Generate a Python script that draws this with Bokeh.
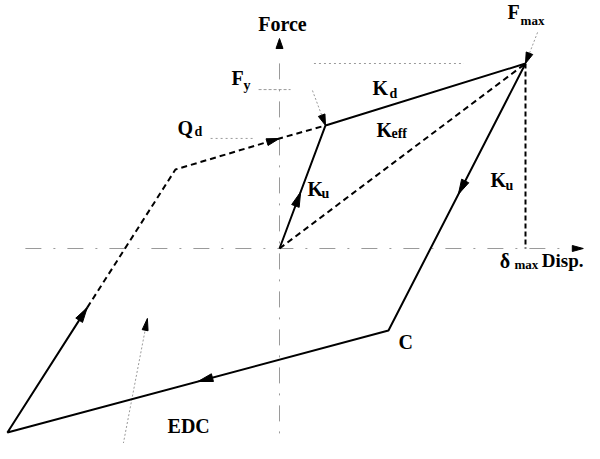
import numpy as np
from bokeh.plotting import figure
from bokeh.models import Range1d
from bokeh.core.properties import value
from bokeh.embed import file_html
from bokeh.resources import INLINE

# ---- data: key points of the bilinear hysteresis loop (disp/δmax, force/Fmax)
point_names = ["O", "Fy", "Fmax", "C", "Neg", "UL", "Qd"]
disp = [0.0, 0.187, 1.0, 0.443, -1.106, -0.423, 0.0]
force = [0.0, 0.665, 1.0, -0.443, -0.995, 0.427, 0.595]
P = dict(zip(point_names, zip(disp, force)))

# fractions along segments where direction arrowheads sit
ku_frac = 0.46       # O -> Fy
unload_frac = 0.49   # Fmax -> C
lower_frac = 0.50    # C -> Neg
rise_frac = 0.475    # Neg -> UL (solid ends, dashed starts)

# reference levels (gray dotted)
fmax_level_x = [0.14, 0.75]
fy_tick_level = 0.859
fy_tick_x = [-0.085, 0.045]
qd_level_x = [-0.28, -0.106]

# axes extents
haxis_x = [-1.033, 1.150]
haxis_tip = 1.235
vaxis_y = [-1.14, 1.027]
vaxis_tip = 1.135

# pointer arrows (start points)
fy_ptr_start = (0.134, 0.854)
fmax_ptr_start = (1.049, 1.168)
edc_ptr_start = (-0.638, -1.076)
edc_ptr_tip = (-0.537, -0.378)

# labels
main_labels = ["Force", "F", "Q", "K", "K", "K", "K", "F", "δ", "Disp.", "C", "EDC"]
main_x = [0.012, -0.195, -0.415, 0.378, 0.394, 0.114, 0.858, 0.927, 0.895, 1.236, 0.484, -0.455]
main_y = [1.211, 0.919, 0.654, 0.865, 0.643, 0.324, 0.368, 1.276, -0.065, -0.065, -0.503, -0.962]
main_size = ["20px"] * 9 + ["19px", "20px", "20px"]
main_align = ["center", "left", "left", "left", "left", "left", "left", "left", "left", "right", "left", "left"]
sub_labels = ["y", "d", "d", "eff", "u", "u", "max", "max"]
sub_x = [-0.146, -0.346, 0.447, 0.455, 0.171, 0.919, 0.980, 0.955]
sub_y = [0.881, 0.632, 0.838, 0.622, 0.297, 0.341, 1.233, -0.086]
sub_size = ["14px", "14px", "14px", "14px", "14px", "14px", "13px", "13px"]

# ---- figure
W, H = 584, 443
x0, x1 = (0 - 279) / 246, (584 - 279) / 246
y0, y1 = (248 - 443) / 185, (248 - 0) / 185
SX = W / (x1 - x0)
SY = H / (y1 - y0)

p = figure(width=W, height=H, output_backend="svg", toolbar_location=None,
           x_range=Range1d(x0, x1), y_range=Range1d(y0, y1),
           x_axis_type=None, y_axis_type=None, min_border=0)
p.grid.visible = False
p.outline_line_color = None
p.background_fill_color = "white"


def lerp(a, b, t):
    return (a[0] + (b[0] - a[0]) * t, a[1] + (b[1] - a[1]) * t)


def head(tip, frm, L, Wd):
    dx = (tip[0] - frm[0]) * SX
    dy = (tip[1] - frm[1]) * SY
    n = np.hypot(dx, dy)
    ux, uy = dx / n, dy / n
    bx = tip[0] * SX - L * ux
    by = tip[1] * SY - L * uy
    px, py = -uy, ux
    xs = [tip[0], (bx + Wd / 2 * px) / SX, (bx - Wd / 2 * px) / SX]
    ys = [tip[1], (by + Wd / 2 * py) / SY, (by - Wd / 2 * py) / SY]
    return xs, ys


GRAY = "#9a9a9a"

# axes (dash-dot gray)
p.line(haxis_x, [0, 0], line_color=GRAY, line_width=1, line_dash="16 12 2 12")
p.line([0, 0], vaxis_y, line_color=GRAY, line_width=1, line_dash="16 10 2 10")

# reference level lines
p.line(fmax_level_x, [P["Fmax"][1]] * 2, line_color=GRAY, line_width=1, line_dash="2 3")
p.line(fy_tick_x, [fy_tick_level] * 2, line_color=GRAY, line_width=1, line_dash="3 2")
p.line(qd_level_x, [P["Qd"][1]] * 2, line_color=GRAY, line_width=1, line_dash="2 3")

# pointer lines
for s, t in [(fy_ptr_start, P["Fy"]), (fmax_ptr_start, P["Fmax"]), (edc_ptr_start, edc_ptr_tip)]:
    p.line([s[0], t[0]], [s[1], t[1]], line_color=GRAY, line_width=1, line_dash="2 2")

# main loop
rise_pt = lerp(P["Neg"], P["UL"], rise_frac)
solid1 = [P["O"], P["Fy"], P["Fmax"]]
solid2 = [P["Fmax"], P["C"], P["Neg"], rise_pt]
dashed1 = [rise_pt, P["UL"], P["Qd"], P["Fy"]]
for seg in [solid1, solid2]:
    p.line([q[0] for q in seg], [q[1] for q in seg], line_color="black", line_width=2)
p.line([q[0] for q in dashed1], [q[1] for q in dashed1], line_color="black",
       line_width=2, line_dash="6 4")
# K_eff secant
p.line([P["O"][0], P["Fmax"][0]], [P["O"][1], P["Fmax"][1]], line_color="black",
       line_width=2, line_dash="6 4")
# δmax vertical
p.line([P["Fmax"][0], P["Fmax"][0]], [P["Fmax"][1], 0], line_color="black",
       line_width=2, line_dash="5 3")

# arrowheads
heads = [
    head(lerp(P["O"], P["Fy"], ku_frac), P["O"], 15, 8),
    head(lerp(P["Fmax"], P["C"], unload_frac), P["Fmax"], 15, 8),
    head(lerp(P["C"], P["Neg"], lower_frac), P["C"], 15, 8),
    head(rise_pt, P["Neg"], 15, 8),
    head(P["Qd"], P["UL"], 13, 7),
    head(P["Fy"], fy_ptr_start, 11, 7),
    head(P["Fmax"], fmax_ptr_start, 11, 7),
    head(edc_ptr_tip, edc_ptr_start, 12, 6),
    head((haxis_tip, 0), (haxis_x[1], 0), 11, 6),
    head((0, vaxis_tip), (0, vaxis_y[1]), 10, 7),
]
p.patches([h[0] for h in heads], [h[1] for h in heads], fill_color="black",
          line_color="black", line_width=1)

# labels
font = value("Liberation Serif")
for t, x, y, s, a in zip(main_labels, main_x, main_y, main_size, main_align):
    p.text(x=[x], y=[y], text=[t], text_font=font, text_font_style="bold",
           text_font_size=s, text_align=a, text_baseline="alphabetic",
           text_color="black")
for t, x, y, s in zip(sub_labels, sub_x, sub_y, sub_size):
    p.text(x=[x], y=[y], text=[t], text_font=font, text_font_style="bold",
           text_font_size=s, text_align="left", text_baseline="alphabetic",
           text_color="black")

open("out.html", "w").write(file_html(p, INLINE))
